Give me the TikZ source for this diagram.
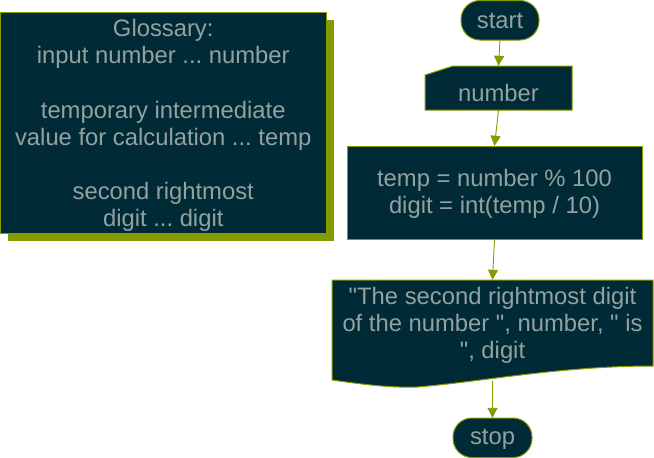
\documentclass[tikz,border=0pt]{standalone}
\usepackage{fontspec}
\setmainfont{Liberation Sans}[Ligatures=TeXOff]
\usetikzlibrary{arrows.meta}
\definecolor{bg}{HTML}{002B36}
\definecolor{ol}{HTML}{859900}
\definecolor{tx}{HTML}{93A1A1}
\frenchspacing
\begin{document}
\begin{tikzpicture}[x=1pt,y=-1pt,
  txt/.style={text=tx, font=\fontsize{23.8}{27.2}\selectfont, align=center, inner sep=0pt, draw=none},
  shp/.style={fill=bg, draw=ol, line width=1pt},
  conn/.style={draw=ol, line width=0.9pt, -{Triangle[length=10pt,width=10pt]}}]
\useasboundingbox (0,0) rectangle (654,458);
% glossary
\fill[ol] (7.5,19.5) rectangle (333.5,241);
\draw[shp] (0.5,12) rectangle (326,233);
% start
\draw[shp, rounded corners=19pt] (461,0.5) rectangle (539,40);
% number (manual input)
\draw[shp] (425,75) -- (453,66) -- (572,66) -- (572,110) -- (425,110) -- cycle;
% process
\draw[shp] (347,146) rectangle (642,239);
% output (document)
\draw[shp] (332,280) -- (653,280) -- (653,366)
  .. controls (560,366) and (480,382) .. (417,387)
  .. controls (390,388) and (360,384) .. (332,380) -- cycle;
% stop
\draw[shp, rounded corners=19pt] (453,418) rectangle (532,457.5);

\node[txt, minimum width=325pt, minimum height=221pt] (gloss) at (163.25,125.5)
  {Glossary:\\input number ... number\\[27.2pt]temporary intermediate\\value for calculation ... temp\\[27.2pt]second rightmost\\digit ... digit};
\node[txt, minimum width=78pt, minimum height=40pt] (start) at (500,21) {start};
\node[txt, minimum width=147pt, minimum height=44pt, text height=27pt, text depth=0pt] (number) at (498.5,88) {number};
\node[txt, minimum width=295pt, minimum height=93pt] (proc) at (494.5,194) {temp = number \% 100\\digit = int(temp / 10)};
\node[txt, minimum width=321pt, minimum height=88pt] (out) at (492.5,325.5) {"The second rightmost digit\\of the number ", number, " is\\", digit};
\node[txt, minimum width=79pt, minimum height=40pt] (stop) at (492.5,439.5) {stop};

\draw[conn] ([yshift=1pt]start.south) -- (number.north);
\draw[conn] (number.south) -- ([yshift=1.5pt]proc.north);
\draw[conn] ([yshift=1.5pt]proc.south) -- ([yshift=1.5pt]out.north);
\draw[conn] ([yshift=-11.5pt]out.south) -- ([yshift=1.5pt]stop.north);
\end{tikzpicture}
\end{document}
